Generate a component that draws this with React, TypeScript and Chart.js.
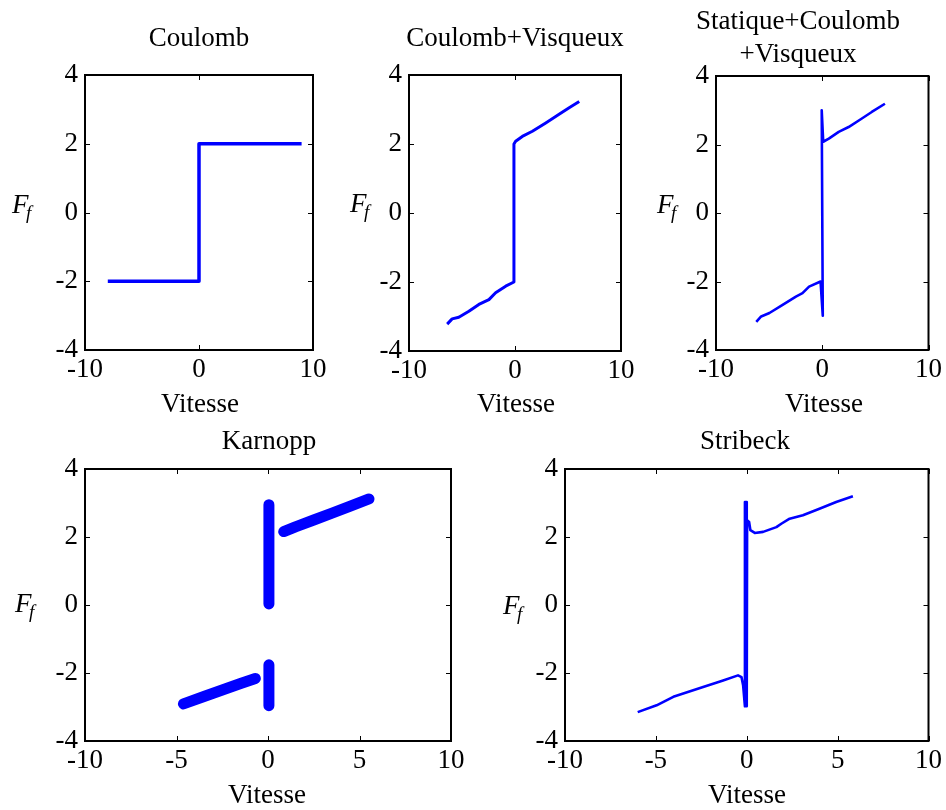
import React, { useEffect, useRef } from "react";
import { Chart, registerables } from "chart.js";
Chart.register(...registerables);

const FONT = '"Liberation Serif", "Times New Roman", serif';
const BLUE = "#0000ff";

// ---- data (Vitesse, F_f) ----
const yTicks = [-4, -2, 0, 2, 4];
const xTicksTop = [-10, 0, 10];
const xTicksBottom = [-10, -5, 0, 5, 10];

// Coulomb
const coulombV = [-8, 0, 0, 9];
const coulombF = [-2, -2, 2, 2];

// Coulomb + Visqueux
const viscV = [-6.4, -5.93, -5.3, -4.35, -3.41, -2.46, -1.83, -0.88, -0.1, -0.1, 0.06, 0.69, 1.64, 2.9, 4.16, 5.11, 6.06];
const viscF = [-3.22, -3.07, -3.02, -2.85, -2.65, -2.51, -2.31, -2.12, -2.0, 2.0, 2.08, 2.22, 2.37, 2.61, 2.86, 3.05, 3.23];

// Statique + Coulomb + Visqueux
const statV = [-6.21, -5.75, -4.97, -3.73, -2.48, -1.86, -1.24, -0.16, 0.05, -0.05, 0.09, 0.62, 1.55, 2.48, 3.73, 4.66, 5.9];
const statF = [-3.18, -3.02, -2.92, -2.68, -2.44, -2.34, -2.15, -2.0, -3.0, 3.0, 2.08, 2.17, 2.37, 2.51, 2.76, 2.95, 3.19];

// Karnopp (segments)
const karnStickPosV = [0.05, 0.05];
const karnStickPosF = [0.03, 2.95];
const karnSlidePosV = [0.86, 1.5, 2.5, 3.5, 4.5, 5.52];
const karnSlidePosF = [2.16, 2.3, 2.5, 2.7, 2.91, 3.12];
const karnStickNegV = [0.05, 0.05];
const karnStickNegF = [-1.76, -2.96];
const karnSlideNegV = [-4.62, -3.5, -2.5, -1.5, -0.69];
const karnSlideNegF = [-2.91, -2.69, -2.5, -2.31, -2.16];

// Stribeck
const stribV = [-6.0, -4.96, -4.04, -2.4, -1.3, -0.48, -0.29, -0.2, -0.1, -0.1, 0.0, 0.0, 0.02, 0.13, 0.2, 0.44, 0.9, 1.63, 1.9, 2.36, 3.09, 4.0, 4.92, 5.84];
const stribF = [-3.15, -2.95, -2.7, -2.41, -2.22, -2.07, -2.12, -2.36, -2.98, 3.03, 3.03, -2.98, 2.49, 2.44, 2.2, 2.12, 2.15, 2.29, 2.39, 2.54, 2.64, 2.83, 3.03, 3.2];

type Series = { v: number[]; f: number[]; w: number; round?: boolean };
type Txt = { text: string; x: number; y: number; align?: CanvasTextAlign; italic?: boolean; size?: number };
type Spec = {
  cl: number; ct: number; cw: number; ch: number;
  area: { l: number; t: number; r: number; b: number };
  xTicks: number[];
  series: Series[];
  texts: Txt[];
};

function ffLabel(x: number, y: number): Txt[] {
  return [
    { text: "F", x, y, align: "left", italic: true, size: 27 },
    { text: "f", x: x + 14, y: y + 6, align: "left", italic: true, size: 19 },
  ];
}

const panels: Spec[] = [
  {
    cl: 0, ct: 0, cw: 340, ch: 425,
    area: { l: 85, t: 75, r: 313, b: 350 },
    xTicks: xTicksTop,
    series: [{ v: coulombV, f: coulombF, w: 3.5 }],
    texts: [
      { text: "Coulomb", x: 199, y: 46 },
      { text: "Vitesse", x: 200, y: 412 },
      ...ffLabel(12, 213),
    ],
  },
  {
    cl: 320, ct: 0, cw: 330, ch: 425,
    area: { l: 409, t: 75, r: 621, b: 351 },
    xTicks: xTicksTop,
    series: [{ v: viscV, f: viscF, w: 3 }],
    texts: [
      { text: "Coulomb+Visqueux", x: 515, y: 46 },
      { text: "Vitesse", x: 516, y: 412 },
      ...ffLabel(350, 212),
    ],
  },
  {
    cl: 630, ct: 0, cw: 316, ch: 425,
    area: { l: 716, t: 76, r: 931, b: 350 },
    xTicks: xTicksTop,
    series: [{ v: statV, f: statF, w: 2.6 }],
    texts: [
      { text: "Statique+Coulomb", x: 798, y: 29 },
      { text: "+Visqueux", x: 798, y: 62 },
      { text: "Vitesse", x: 824, y: 412 },
      ...ffLabel(657, 213),
    ],
  },
  {
    cl: 0, ct: 420, cw: 480, ch: 390,
    area: { l: 85, t: 469, r: 451, b: 741 },
    xTicks: xTicksBottom,
    series: [
      { v: karnStickPosV, f: karnStickPosF, w: 11, round: true },
      { v: karnSlidePosV, f: karnSlidePosF, w: 11, round: true },
      { v: karnStickNegV, f: karnStickNegF, w: 11, round: true },
      { v: karnSlideNegV, f: karnSlideNegF, w: 11, round: true },
    ],
    texts: [
      { text: "Karnopp", x: 269, y: 449 },
      { text: "Vitesse", x: 267, y: 803 },
      ...ffLabel(15, 612),
    ],
  },
  {
    cl: 470, ct: 420, cw: 476, ch: 390,
    area: { l: 565, t: 469, r: 930, b: 741 },
    xTicks: xTicksBottom,
    series: [{ v: stribV, f: stribF, w: 2.6 }],
    texts: [
      { text: "Stribeck", x: 745, y: 449 },
      { text: "Vitesse", x: 747, y: 803 },
      ...ffLabel(503, 614),
    ],
  },
];

function Panel({ spec }: { spec: Spec }) {
  const ref = useRef<HTMLCanvasElement | null>(null);
  useEffect(() => {
    const canvas = ref.current;
    if (!canvas) return;
    const { cl, ct, cw, ch, area } = spec;
    const padLeft = area.l - cl;
    const padTop = area.t - ct;
    const padRight = cl + cw - area.r;
    const padBottom = ct + ch - area.b;
    const step = spec.xTicks[1] - spec.xTicks[0];

    const framePlugin = {
      id: "frame",
      afterDraw(chart: any) {
        const { ctx, chartArea: a, scales } = chart;
        const xs = scales.x;
        const ys = scales.y;
        ctx.save();
        ctx.strokeStyle = "#000";
        ctx.lineWidth = 1;
        ctx.beginPath();
        for (const v of spec.xTicks) {
          const px = Math.round(xs.getPixelForValue(v)) + 0.5;
          ctx.moveTo(px, a.bottom);
          ctx.lineTo(px, a.bottom - 5);
          ctx.moveTo(px, a.top);
          ctx.lineTo(px, a.top + 5);
        }
        for (const v of yTicks) {
          const py = Math.round(ys.getPixelForValue(v)) + 0.5;
          ctx.moveTo(a.left, py);
          ctx.lineTo(a.left + 5, py);
          ctx.moveTo(a.right, py);
          ctx.lineTo(a.right - 5, py);
        }
        ctx.stroke();
        ctx.lineWidth = 2;
        ctx.strokeRect(a.left, a.top, a.right - a.left, a.bottom - a.top);
        ctx.fillStyle = "#000";
        ctx.textBaseline = "alphabetic";
        for (const t of spec.texts) {
          ctx.font = `${t.italic ? "italic " : ""}${t.size || 27}px ${FONT}`;
          ctx.textAlign = t.align || "center";
          ctx.fillText(t.text, t.x - cl, t.y - ct);
        }
        ctx.restore();
      },
    };

    const chart = new Chart(canvas, {
      type: "scatter",
      data: {
        datasets: spec.series.map((s) => ({
          data: s.v.map((v, i) => ({ x: v, y: s.f[i] })),
          showLine: true,
          borderColor: BLUE,
          backgroundColor: BLUE,
          borderWidth: s.w,
          pointRadius: 0,
          borderCapStyle: s.round ? "round" : "butt",
          borderJoinStyle: "round",
          tension: 0,
        })),
      },
      options: {
        responsive: false,
        animation: false,
        events: [],
        layout: { padding: { left: 0, top: padTop, right: padRight, bottom: 0 } },
        plugins: { legend: { display: false }, tooltip: { enabled: false }, title: { display: false } },
        scales: {
          x: {
            type: "linear",
            min: -10,
            max: 10,
            grid: { display: false, drawTicks: false, tickLength: 0 },
            border: { display: false },
            ticks: {
              stepSize: step,
              color: "#000",
              padding: 4,
              font: { family: FONT, size: 27 },
              maxRotation: 0,
              autoSkip: false,
            },
            afterFit: (s: any) => { s.height = padBottom; },
          },
          y: {
            type: "linear",
            min: -4,
            max: 4,
            grid: { display: false, drawTicks: false, tickLength: 0 },
            border: { display: false },
            ticks: {
              stepSize: 2,
              color: "#000",
              padding: 7,
              font: { family: FONT, size: 27 },
              autoSkip: false,
            },
            afterFit: (s: any) => { s.width = padLeft; },
          },
        },
      },
      plugins: [framePlugin],
    } as any);
    return () => chart.destroy();
  }, [spec]);
  return (
    <canvas
      ref={ref}
      width={spec.cw}
      height={spec.ch}
      style={{ position: "absolute", left: spec.cl, top: spec.ct, width: spec.cw, height: spec.ch }}
    />
  );
}

export default function App() {
  return (
    <div style={{ position: "absolute", left: 0, top: 0, width: 946, height: 810, background: "#fff", overflow: "hidden" }}>
      {panels.map((p, i) => (
        <Panel key={i} spec={p} />
      ))}
    </div>
  );
}
